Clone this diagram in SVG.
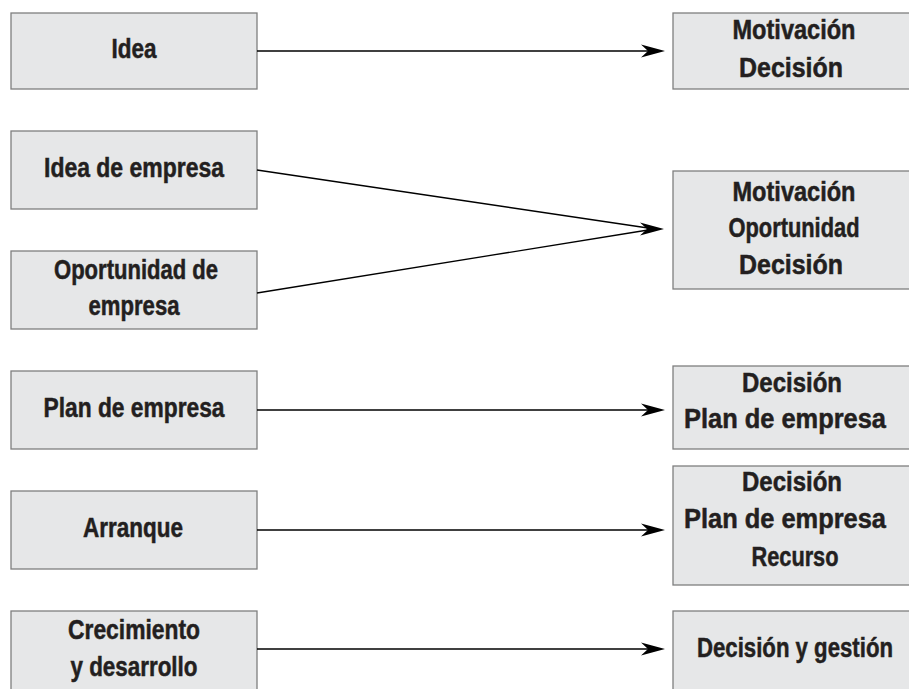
<svg xmlns="http://www.w3.org/2000/svg" width="909" height="689" viewBox="0 0 909 689">
<style>
.box{fill:#e6e7e8;stroke:#7f7f7f;stroke-width:1.3}
.t{font-family:"Liberation Sans Narrow","Liberation Sans",Arial,sans-serif;font-weight:bold;fill:#231f20;stroke:#231f20;stroke-width:0.5;text-anchor:middle}
.l{font-size:27px}
.r{font-size:27px}
.c{fill:none;stroke:#000;stroke-width:1.3}
.ah{fill:#000}
</style>
<defs>
<path id="ah" d="M0,0 L-24,-6.5 L-17,0 L-24,6.5 Z"/>
</defs>
<g id="n-idea"><rect class="box" x="11" y="13" width="246" height="76"/><text class="t l" x="134" y="58" textLength="45" lengthAdjust="spacingAndGlyphs">Idea</text></g>
<g id="n-idea-empresa"><rect class="box" x="11" y="131" width="246" height="78"/><text class="t l" x="134" y="177" textLength="180" lengthAdjust="spacingAndGlyphs">Idea de empresa</text></g>
<g id="n-oportunidad"><rect class="box" x="11" y="251" width="246" height="78"/><text class="t l" x="136" y="279" textLength="164" lengthAdjust="spacingAndGlyphs">Oportunidad de</text><text class="t l" x="134" y="315" textLength="91" lengthAdjust="spacingAndGlyphs">empresa</text></g>
<g id="n-plan"><rect class="box" x="11" y="371" width="246" height="78"/><text class="t l" x="134" y="417" textLength="181" lengthAdjust="spacingAndGlyphs">Plan de empresa</text></g>
<g id="n-arranque"><rect class="box" x="11" y="491" width="246" height="78"/><text class="t l" x="133" y="537" textLength="100" lengthAdjust="spacingAndGlyphs">Arranque</text></g>
<g id="n-crecimiento"><rect class="box" x="11" y="611" width="246" height="95"/><text class="t l" x="134" y="639" textLength="132" lengthAdjust="spacingAndGlyphs">Crecimiento</text><text class="t l" x="134" y="676" textLength="127" lengthAdjust="spacingAndGlyphs">y desarrollo</text></g>
<g id="n-r1"><rect class="box" x="673" y="13" width="237" height="76"/><text class="t r" x="794" y="39" textLength="123" lengthAdjust="spacingAndGlyphs">Motivación</text><text class="t r" x="791" y="77" textLength="104" lengthAdjust="spacingAndGlyphs">Decisión</text></g>
<g id="n-r2"><rect class="box" x="673" y="171" width="237" height="118"/><text class="t r" x="794" y="201" textLength="123" lengthAdjust="spacingAndGlyphs">Motivación</text><text class="t r" x="794" y="237" textLength="131" lengthAdjust="spacingAndGlyphs">Oportunidad</text><text class="t r" x="791" y="274" textLength="104" lengthAdjust="spacingAndGlyphs">Decisión</text></g>
<g id="n-r3"><rect class="box" x="673" y="366" width="237" height="83"/><text class="t r" x="792" y="392" textLength="100" lengthAdjust="spacingAndGlyphs">Decisión</text><text class="t r" x="785" y="428" textLength="202" lengthAdjust="spacingAndGlyphs">Plan de empresa</text></g>
<g id="n-r4"><rect class="box" x="673" y="466" width="237" height="119"/><text class="t r" x="792" y="491" textLength="100" lengthAdjust="spacingAndGlyphs">Decisión</text><text class="t r" x="785" y="528" textLength="202" lengthAdjust="spacingAndGlyphs">Plan de empresa</text><text class="t r" x="795" y="566" textLength="87" lengthAdjust="spacingAndGlyphs">Recurso</text></g>
<g id="n-r5"><rect class="box" x="673" y="611" width="237" height="95"/><text class="t r" x="795" y="657" textLength="196" lengthAdjust="spacingAndGlyphs">Decisión y gestión</text></g>
<g id="connectors">
<line class="c" x1="257" y1="51" x2="650" y2="51"/><use href="#ah" class="ah" x="665" y="51"/>
<line class="c" x1="257" y1="170" x2="648" y2="228"/>
<line class="c" x1="257" y1="293" x2="648" y2="230"/><use href="#ah" class="ah" x="664" y="229"/>
<line class="c" x1="257" y1="410" x2="650" y2="410"/><use href="#ah" class="ah" x="665" y="410"/>
<line class="c" x1="257" y1="530" x2="650" y2="530"/><use href="#ah" class="ah" x="665" y="530"/>
<line class="c" x1="257" y1="649" x2="650" y2="649"/><use href="#ah" class="ah" x="665" y="649"/>
</g>
</svg>
